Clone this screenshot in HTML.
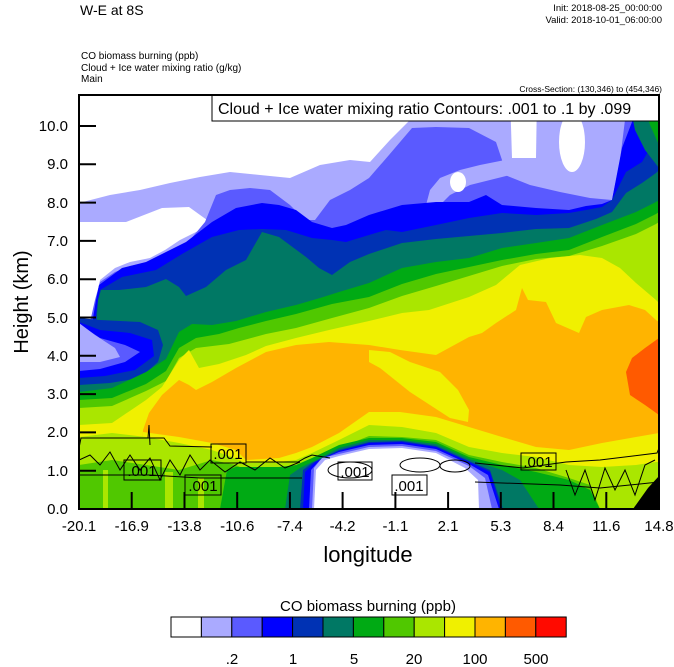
<!DOCTYPE html>
<html><head><meta charset="utf-8"><style>
html,body{margin:0;padding:0;background:#fff}
svg{display:block}
text{font-family:"Liberation Sans",sans-serif;fill:#000}
</style></head><body>
<svg width="674" height="667" viewBox="0 0 674 667" xmlns="http://www.w3.org/2000/svg">
<rect width="674" height="667" fill="#fff"/>
<text x="80" y="15" font-size="14">W-E at 8S</text>
<text x="662" y="11" font-size="9.5" text-anchor="end">Init: 2018-08-25_00:00:00</text>
<text x="662" y="23" font-size="9.5" text-anchor="end">Valid: 2018-10-01_06:00:00</text>
<text x="81" y="59" font-size="10">CO biomass burning   (ppb)</text>
<text x="81" y="71" font-size="10">Cloud + Ice water mixing ratio   (g/kg)</text>
<text x="81" y="82" font-size="10">Main</text>
<text x="662" y="92" font-size="8.5" text-anchor="end">Cross-Section: (130,346) to (454,346)</text>
<defs><clipPath id="pc"><rect x="79" y="95" width="580" height="414"/></clipPath></defs>
<g clip-path="url(#pc)">
<rect x="79" y="95" width="580" height="414" fill="#fff"/>
<polygon fill="#aaaaff" points="79,509 79,203 110,195 140,190 170,183 200,177 230,172 260,175 290,178 320,165 350,160 370,162 390,140 410,120 430,105 450,95 659,95 659,509"/>
<polygon fill="#fff" points="510,95 512,158 536,158 537,95"/>
<ellipse cx="572" cy="142" rx="13" ry="30" fill="#fff"/>
<polygon fill="#fff" points="79,222 126,222 162,208 189,207 207,220 200,230 180,240 165,250 150,258 130,262 115,268 100,280 96,300 94,318 79,322"/>
<polygon fill="#5a5aff" points="79,509 79,326 90,322 95,300 100,282 115,272 130,266 150,262 170,252 190,240 205,222 216,195 230,190 250,188 270,190 290,205 305,220 315,220 330,200 350,190 369,178 389,155 412,128 436,127 469,128 496,142 502,160 505,175 530,185 560,192 590,198 612,200 620,160 625,120 628,95 659,95 659,509"/>
<polygon fill="#aaaaff" points="426,205 430,190 440,178 460,170 480,165 505,160 510,175 490,180 470,185 450,195 440,205"/>
<ellipse cx="458" cy="182" rx="8" ry="10" fill="#fff"/>
<polygon fill="#0000ff" points="79,509 79,330 92,324 96,300 99,285 122,268 146,262 186,242 212,222 236,208 262,203 279,205 296,210 312,222 332,228 346,225 369,215 402,205 436,202 469,202 486,195 502,205 536,208 569,210 586,206 602,204 612,200 622,148 632,122 640,95 659,95 659,509"/>
<polygon fill="#0032b4" points="79,509 79,334 94,327 98,300 100,290 122,277 156,270 182,254 212,237 239,230 262,229 286,230 312,238 332,240 346,242 369,235 386,230 402,232 436,225 469,218 502,213 536,215 569,213 586,210 602,207 612,200 626,172 642,162 656,138 659,130 659,509"/>
<polygon fill="#007864" points="79,509 79,336 96,330 98,300 101,290 119,290 146,287 166,279 179,287 186,296 206,287 226,270 246,260 262,232 279,237 306,257 319,268 332,275 350,262 369,254 402,243 436,239 469,236 502,233 536,229 569,228 596,219 612,212 626,193 642,183 656,173 659,170 659,509"/>
<polygon fill="#0032b4" points="79,318 100,320 140,322 158,330 163,345 158,362 140,378 110,383 79,385"/>
<polygon fill="#0000ff" points="79,322 100,330 130,333 152,340 154,356 135,370 105,376 79,378"/>
<polygon fill="#5a5aff" points="79,324 100,338 125,345 140,352 125,362 100,369 79,371"/>
<polygon fill="#aaaaff" points="79,323 95,335 115,348 120,357 100,362 79,362"/>
<polygon fill="#00aa14" points="79,509 79,392 112,388 146,372 166,359 179,332 192,324 212,325 236,321 266,312 296,305 320,298 339,292 369,283 402,268 436,262 469,258 502,248 536,243 569,238 602,225 636,212 656,202 659,200 659,509"/>
<polygon fill="#50c800" points="79,509 79,400 112,398 146,384 166,371 179,348 196,338 219,334 239,328 266,321 296,314 332,304 369,297 402,284 436,274 469,267 502,260 536,254 569,250 602,237 636,224 656,214 659,212 659,509"/>
<polygon fill="#aae600" points="79,509 79,408 112,406 146,391 166,381 179,358 196,348 229,344 266,334 296,328 332,318 369,308 402,296 436,286 469,276 502,266 536,259 569,256 602,246 636,234 656,224 659,222 659,509"/>
<polygon fill="#f0f000" points="79,509 79,425 112,423 146,400 162,387 179,360 189,350 199,368 219,364 246,355 266,346 296,338 329,330 369,321 402,313 429,310 469,297 496,285 520,265 550,258 580,255 602,258 620,268 636,283 656,300 659,303 659,509"/>
<polygon fill="#ffb400" points="79,509 140,509 143,430 149,413 162,395 179,380 189,385 196,390 212,382 236,368 266,352 296,345 329,342 369,345 400,350 436,355 469,337 482,333 496,323 516,310 522,288 528,300 546,302 556,323 579,333 586,317 602,310 629,305 645,310 656,320 659,322 659,509"/>
<polygon fill="#f0f000" points="369,350 390,352 410,362 440,372 458,390 469,410 468,422 450,418 430,405 410,392 395,380 380,368 369,362"/>
<polygon fill="#ff5a00" points="659,338 645,348 632,358 626,372 630,395 645,405 659,415"/>
<polygon fill="#007864" points="628,95 659,95 659,168 645,150 635,130"/>
<polygon fill="#00aa14" points="640,95 659,95 659,145 650,125"/>
<polygon fill="#50c800" points="650,95 659,95 659,118"/>
<!-- lower bands -->
<polygon fill="#f0f000" points="140,509 143,432 179,437 212,443 236,450 246,460 279,458 296,453 312,447 339,433 369,412 400,412 436,417 469,427 502,437 536,447 569,450 602,443 636,437 659,433 659,509"/>
<polygon fill="#aae600" points="79,509 79,437 112,433 146,437 179,443 212,450 232,457 246,463 279,462 296,460 312,453 339,440 369,425 402,427 436,433 469,447 502,453 536,457 569,465 602,467 636,465 656,462 659,462 659,509"/>
<polygon fill="#50c800" points="79,509 79,465 112,460 146,465 179,470 212,460 236,465 246,470 279,468 296,466 312,460 339,448 369,436 402,437 436,440 469,455 502,462 536,468 569,478 590,485 600,509"/>
<rect x="103" y="470" width="5" height="39" fill="#aae600"/>
<rect x="165" y="472" width="8" height="37" fill="#aae600"/>
<rect x="198" y="478" width="6" height="31" fill="#aae600"/>
<polygon fill="#00aa14" points="220,509 227,470 236,467 279,467 296,465 312,458 339,445 369,438 402,438 436,442 469,457 502,465 536,472 569,480 590,490 600,509"/>
<polygon fill="#007864" points="285,509 290,475 300,468 312,462 339,448 369,440 402,440 436,444 469,459 502,470 520,480 539,509"/>
<polygon fill="#0032b4" points="300,509 303,470 312,463 339,450 369,442 402,441 436,446 469,461 490,470 503,509"/>
<polygon fill="#0000ff" points="303,509 305,472 315,462 339,451 369,443 402,442 436,447 469,462 490,472 501,509"/>
<polygon fill="#5a5aff" points="309,509 311,470 320,460 339,452 369,445 402,444 436,449 469,464 488,475 499,509"/>
<polygon fill="#aaaaff" points="312,509 314,468 322,458 339,454 369,447 402,446 436,451 469,466 485,478 492,509"/>
<polygon fill="#fff" points="314,509 316,470 325,460 339,456 369,449 402,448 436,453 465,468 478,480 479,509"/>
<polygon fill="#000" points="633,509 659,509 659,476 648,488"/>
<!-- contours -->
<g fill="none" stroke="#000" stroke-width="1">
<polyline points="79,448 81,438 164,438 170,446 212,447"/>
<polyline points="246,462 298,462 305,458 312,455 330,458"/>
<polyline points="475,463 523,468 566,462 600,460 657,453 659,448"/>
<polyline points="79,475 150,475 200,478 302,478"/>
<polyline points="475,482 560,485 600,488 659,482"/>
<polyline points="79,460 90,455 100,465 110,452 120,470 130,455 140,470 150,458 160,480 170,460 180,475 190,455 200,470 210,460 225,472 240,462 255,470 270,458 285,468 300,462"/>
<polyline points="566,470 575,495 585,470 595,500 605,468 615,490 625,470 635,495 645,465 655,460"/>
<polyline points="148,438 149,425 150,445"/>
<ellipse cx="350" cy="470" rx="22" ry="8"/>
<ellipse cx="420" cy="465" rx="20" ry="7"/>
<ellipse cx="455" cy="466" rx="15" ry="6"/>
<rect x="124" y="460" width="37" height="20"/>
<rect x="185" y="475" width="36" height="20"/>
<rect x="211" y="444" width="35" height="19"/>
<rect x="338" y="462" width="34" height="18"/>
<rect x="392" y="475" width="35" height="20"/>
<rect x="521" y="453" width="35" height="17"/>
</g>
<g font-size="15">
<text x="142" y="476" text-anchor="middle">.001</text>
<text x="203" y="491" text-anchor="middle">.001</text>
<text x="228" y="459" text-anchor="middle">.001</text>
<text x="355" y="477" text-anchor="middle">.001</text>
<text x="409" y="491" text-anchor="middle">.001</text>
<text x="538" y="467" text-anchor="middle">.001</text>
</g>
</g>
<rect x="212" y="95" width="447" height="26" fill="#fff" stroke="#000" stroke-width="1"/>
<text x="218" y="114" font-size="16">Cloud + Ice water mixing ratio Contours: .001 to .1 by .099</text>
<rect x="79" y="95" width="580" height="414" fill="none" stroke="#000" stroke-width="2"/>
<g stroke="#000" stroke-width="2">
<line x1="79" y1="509" x2="96" y2="509"/><line x1="79" y1="470.7" x2="96" y2="470.7"/><line x1="79" y1="432.4" x2="96" y2="432.4"/><line x1="79" y1="394.1" x2="96" y2="394.1"/><line x1="79" y1="355.8" x2="96" y2="355.8"/><line x1="79" y1="317.5" x2="96" y2="317.5"/><line x1="79" y1="279.2" x2="96" y2="279.2"/><line x1="79" y1="240.9" x2="96" y2="240.9"/><line x1="79" y1="202.6" x2="96" y2="202.6"/><line x1="79" y1="164.3" x2="96" y2="164.3"/><line x1="79" y1="126" x2="96" y2="126"/>
<line x1="131.7" y1="509" x2="131.7" y2="492"/><line x1="184.5" y1="509" x2="184.5" y2="492"/><line x1="237.2" y1="509" x2="237.2" y2="492"/><line x1="289.9" y1="509" x2="289.9" y2="492"/><line x1="342.6" y1="509" x2="342.6" y2="492"/><line x1="395.4" y1="509" x2="395.4" y2="492"/><line x1="448.1" y1="509" x2="448.1" y2="492"/><line x1="500.8" y1="509" x2="500.8" y2="492"/><line x1="553.5" y1="509" x2="553.5" y2="492"/><line x1="606.3" y1="509" x2="606.3" y2="492"/>
</g>
<g font-size="15" text-anchor="end">
<text x="68" y="514">0.0</text><text x="68" y="476">1.0</text><text x="68" y="437">2.0</text><text x="68" y="399">3.0</text><text x="68" y="361">4.0</text><text x="68" y="323">5.0</text><text x="68" y="284">6.0</text><text x="68" y="246">7.0</text><text x="68" y="208">8.0</text><text x="68" y="169">9.0</text><text x="68" y="131">10.0</text>
</g>
<g font-size="15" text-anchor="middle">
<text x="79" y="531">-20.1</text><text x="131.7" y="531">-16.9</text><text x="184.5" y="531">-13.8</text><text x="237.2" y="531">-10.6</text><text x="289.9" y="531">-7.4</text><text x="342.6" y="531">-4.2</text><text x="395.4" y="531">-1.1</text><text x="448.1" y="531">2.1</text><text x="500.8" y="531">5.3</text><text x="553.5" y="531">8.4</text><text x="606.3" y="531">11.6</text><text x="659" y="531">14.8</text>
</g>
<text x="368" y="562" font-size="22" text-anchor="middle">longitude</text>
<text transform="translate(28,302) rotate(-90)" font-size="20" text-anchor="middle">Height (km)</text>
<text x="368" y="611" font-size="15" text-anchor="middle">CO biomass burning  (ppb)</text>
<g stroke="#000" stroke-width="1">
<rect x="171" y="617" width="30.4" height="20" fill="#fff"/>
<rect x="201.4" y="617" width="30.4" height="20" fill="#aaaaff"/>
<rect x="231.8" y="617" width="30.4" height="20" fill="#5a5aff"/>
<rect x="262.2" y="617" width="30.4" height="20" fill="#0000ff"/>
<rect x="292.6" y="617" width="30.4" height="20" fill="#0032b4"/>
<rect x="323" y="617" width="30.4" height="20" fill="#007864"/>
<rect x="353.4" y="617" width="30.4" height="20" fill="#00aa14"/>
<rect x="383.8" y="617" width="30.4" height="20" fill="#50c800"/>
<rect x="414.2" y="617" width="30.4" height="20" fill="#aae600"/>
<rect x="444.6" y="617" width="30.4" height="20" fill="#f0f000"/>
<rect x="475" y="617" width="30.4" height="20" fill="#ffb400"/>
<rect x="505.4" y="617" width="30.4" height="20" fill="#ff5a00"/>
<rect x="535.8" y="617" width="30.4" height="20" fill="#ff0a00"/>
</g>
<g font-size="15" text-anchor="middle">
<text x="232" y="664">.2</text><text x="293" y="664">1</text><text x="354" y="664">5</text><text x="414" y="664">20</text><text x="475" y="664">100</text><text x="536" y="664">500</text>
</g>
</svg>
</body></html>
